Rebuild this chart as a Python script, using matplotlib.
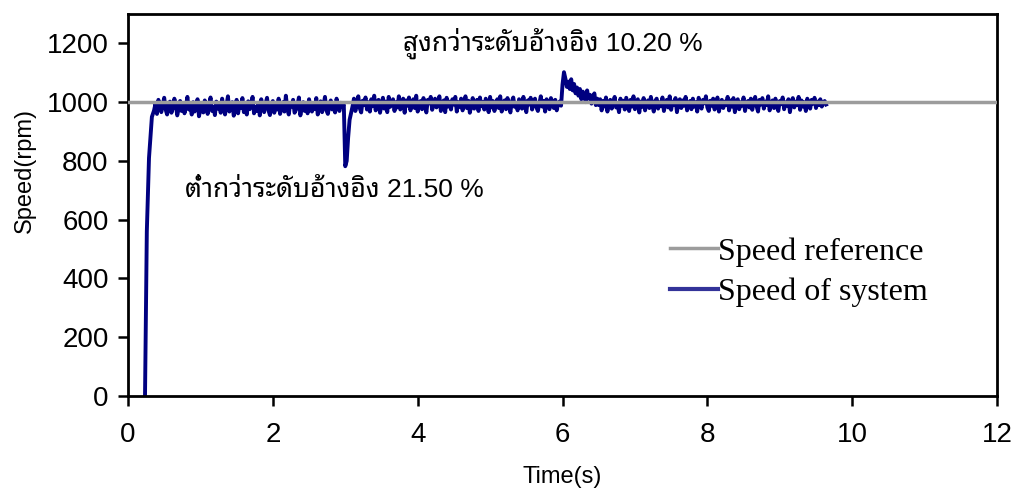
import numpy as np
import matplotlib
matplotlib.use("Agg")
import matplotlib.pyplot as plt

# start-up of the motor (s, rpm)
t_start = [0.235, 0.26, 0.29, 0.33]
speed_start = [0, 560, 810, 950]

# below: one value every 0.02 s
# 0.36 - 2.98 s
speed_a = [
    972, 995, 960, 1008, 985, 966, 990, 1015, 975, 958,
    988, 1002, 964, 980, 1012, 992, 955, 978, 1004, 970,
    996, 962, 985, 1018, 975, 990, 958, 1000, 968, 983,
    1010, 952, 976, 995, 965, 1006, 986, 960, 992, 1016,
    970, 984, 956, 1002, 978, 994, 964, 1012, 980, 958,
    990, 1020, 968, 985, 1000, 954, 975, 1008, 962, 993,
    980, 1014, 966, 988, 958, 1003, 976, 990, 1018, 962,
    984, 970, 998, 955, 1010, 980, 966, 995, 1015, 972,
    956, 987, 1004, 964, 992, 975, 1012, 960, 983, 1000,
    968, 1022, 978, 958, 996, 985, 1008, 964, 974, 990,
    1016, 955, 982, 1000, 970, 992, 962, 1010, 986, 968,
    995, 976, 1014, 958, 984, 1003, 966, 990, 1018, 972,
    960, 988, 1006, 975, 995, 965, 1012, 982, 970, 998, 985, 992,
]
# 3.00 - 3.08 s, load applied
speed_dip = [782, 800, 880, 940, 962]
# 3.10 - 5.98 s
speed_b = [
    985, 1012, 970, 998, 1020, 980, 965, 1005, 990, 1016,
    975, 1000, 968, 1010, 986, 1022, 972, 995, 1008, 964,
    990, 1015, 978, 1002, 966, 1018, 984, 996, 1010, 970,
    1000, 982, 1020, 975, 992, 1012, 964, 1006, 988, 1016,
    972, 998, 1010, 980, 1022, 968, 994, 1004, 976, 1014,
    986, 965, 1008, 996, 1018, 974, 990, 1012, 982, 1000,
    1020, 970, 995, 1006, 966, 1015, 985, 1002, 975, 1010,
    992, 1018, 968, 1000, 984, 1012, 972, 996, 1020, 980,
    1005, 964, 990, 1014, 978, 998, 1008, 970, 1016, 986,
    1000, 975, 1012, 992, 966, 1018, 982, 1004, 970, 995,
    1010, 980, 1020, 968, 998, 1006, 976, 1014, 990, 965,
    1002, 1016, 984, 995, 972, 1010, 1000, 978, 1018, 988,
    966, 1006, 992, 1015, 975, 1000, 1012, 982, 970, 996,
    1020, 985, 1004, 968, 1010, 990, 976, 1014, 998, 980,
    1008, 972, 995, 1002, 988,
]
# 6.00 - 6.48 s, load removed
speed_c = [
    1060, 1102, 1080, 1052, 1070, 1045, 1078, 1040, 1062, 1030,
    1050, 1022, 1045, 1010, 1036, 1028, 1000, 1040, 1012, 1025,
    995, 1018, 1030, 990, 1012,
]
# 6.50 - 9.64 s
speed_d = [
    990, 1010, 972, 1004, 985, 1016, 968, 998, 1008, 978,
    1000, 1018, 982, 994, 966, 1012, 988, 1005, 975, 1015,
    992, 970, 1008, 985, 1020, 976, 998, 1010, 965, 1002,
    984, 1014, 972, 996, 1006, 980, 1018, 990, 968, 1004,
    1012, 978, 1000, 986, 1016, 970, 995, 1008, 982, 1020,
    974, 1002, 990, 1014, 966, 998, 1010, 980, 1006, 988,
    1018, 972, 994, 1004, 976, 1012, 985, 1000, 968, 1015,
    992, 978, 1008, 996, 1020, 982, 970, 1005, 988, 1012,
    975, 1000, 1016, 968, 994, 1008, 980, 1002, 990, 1018,
    972, 1006, 985, 1014, 966, 998, 1010, 976, 1000, 988,
    1016, 970, 995, 1004, 982, 1012, 974, 1000, 1018, 986,
    968, 1008, 992, 1014, 978, 1002, 990, 1020, 972, 996,
    1006, 980, 1012, 985, 970, 1004, 994, 1016, 976, 1000,
    988, 1010, 966, 998, 1014, 982, 1002, 990, 1018, 974,
    1006, 985, 1000, 970, 1012, 992, 978, 1008, 995, 1015,
    980, 1002, 990, 1010, 985, 998, 1004, 992,
]
seg_start = [0.36, 3.00, 3.10, 6.00, 6.50]

ref_time = [0, 12]
ref_speed = [1000, 1000]

time = list(t_start)
speed = list(speed_start)
for t0, vals in zip(seg_start, [speed_a, speed_dip, speed_b, speed_c, speed_d]):
    time += list(t0 + 0.02 * np.arange(len(vals)))
    speed += vals

thai = ["Liberation Sans", "Noto Sans Thai Looped"]
plt.rcParams["font.family"] = thai

fig = plt.figure(figsize=(10.15, 4.92), dpi=100)
ax = fig.add_axes([0.1261, 0.1951, 0.8562, 0.7764])

ax.plot(ref_time, ref_speed, color="#9c9c9c", lw=2.5, label="Speed reference", zorder=3)
ax.plot(time, speed, color="#000080", lw=2.8, label="Speed of system", zorder=2)

ax.set_xlim(0, 12)
ax.set_ylim(0, 1300)
ax.set_xticks(range(0, 13, 2))
ax.set_yticks(range(0, 1201, 200))
ax.tick_params(direction="out", length=7, width=1.8, labelsize=20)
ax.tick_params(axis="x", pad=12)
ax.tick_params(axis="y", pad=7)
for s in ax.spines.values():
    s.set_linewidth(2)

ax.set_xlabel("Time(s)", fontsize=17, labelpad=13)
ax.set_ylabel("Speed(rpm)", fontsize=17)
ax.yaxis.set_label_coords(-0.106, 0.59)

ax.text(0.79, 700, "ต่ำกว่าระดับอ้างอิง 21.50 %", fontsize=19, family=thai, va="center")
ax.text(3.8, 1200, "สูงกว่าระดับอ้างอิง 10.20 %", fontsize=19, family=thai, va="center")

leg = ax.legend(loc="upper left", bbox_to_anchor=(0.624, 0.416), frameon=False,
                prop={"family": "Liberation Serif", "size": 23},
                handlelength=1.5, handletextpad=0.0, labelspacing=0.35,
                borderpad=0, borderaxespad=0)
leg.get_lines()[1].set_color("#333399")
leg.get_lines()[1].set_linewidth(3)

fig.savefig("out.png")
